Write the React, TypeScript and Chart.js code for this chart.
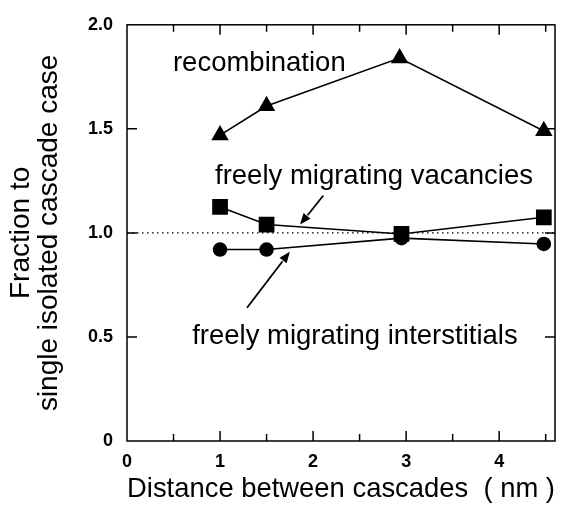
import React, { useEffect, useRef } from "react";
import { Chart, registerables } from "chart.js";

Chart.register(...registerables);

const DISTANCES_REC = [1.0, 1.5, 2.93, 4.48];
const RECOMBINATION = [1.47, 1.61, 1.84, 1.49];
const DISTANCES_VAC = [1.0, 1.5, 2.95, 4.48];
const VACANCIES = [1.125, 1.04, 0.995, 1.075];
const DISTANCES_INT = [1.0, 1.5, 2.95, 4.48];
const INTERSTITIALS = [0.92, 0.92, 0.975, 0.947];

const X_TICKS = [0, 1, 2, 3, 4];
const Y_TICKS = [0, 0.5, 1.0, 1.5, 2.0];
const Y_TICK_LABELS = ["0", "0.5", "1.0", "1.5", "2.0"];
const REFERENCE_LEVEL = 1.0;

const X_TITLE = "Distance between cascades  ( nm )";
const Y_TITLE = ["Fraction to", "single isolated cascade case"];

const LABELS = [
  { text: "recombination", x: 0.494, y: 1.779 },
  { text: "freely migrating vacancies", x: 0.946, y: 1.235 },
  { text: "freely migrating interstitials", x: 0.70, y: 0.465 },
];
const ARROWS = [
  { from: [2.11, 1.18], to: [1.86, 1.04] },
  { from: [1.29, 0.64], to: [1.75, 0.91] },
];

const FONT = "'Liberation Sans', Arial, Helvetica, sans-serif";

const toPoints = (xs: number[], ys: number[]) => xs.map((x, i) => ({ x, y: ys[i] }));

const framePlugin = {
  id: "frameAndTicks",
  beforeDatasetsDraw(chart: any) {
    const { ctx, chartArea, scales } = chart;
    const { left, right } = chartArea;
    const ys = scales.y.getPixelForValue(REFERENCE_LEVEL);
    ctx.save();
    ctx.strokeStyle = "#000";
    ctx.lineWidth = 1.2;
    ctx.setLineDash([1.5, 3.5]);
    ctx.beginPath();
    ctx.moveTo(left, ys);
    ctx.lineTo(right, ys);
    ctx.stroke();
    ctx.restore();
  },
  afterDatasetsDraw(chart: any) {
    const { ctx, chartArea, scales } = chart;
    const { left, right, top, bottom } = chartArea;
    ctx.save();
    ctx.strokeStyle = "#000";
    ctx.lineWidth = 1.5;
    ctx.strokeRect(left, top, right - left, bottom - top);
    for (let v = 0.5; v <= scales.x.max + 1e-9; v += 0.5) {
      const px = scales.x.getPixelForValue(v);
      const major = Math.abs(v - Math.round(v)) < 1e-6;
      const len = major ? 10 : 7;
      ctx.beginPath();
      ctx.moveTo(px, bottom);
      ctx.lineTo(px, bottom - len);
      ctx.moveTo(px, top);
      ctx.lineTo(px, top + len);
      ctx.stroke();
    }
    for (let v = 0.5; v < scales.y.max; v += 0.5) {
      const py = scales.y.getPixelForValue(v);
      ctx.beginPath();
      ctx.moveTo(left, py);
      ctx.lineTo(left + 10, py);
      ctx.moveTo(right, py);
      ctx.lineTo(right - 10, py);
      ctx.stroke();
    }
    ctx.fillStyle = "#000";
    ctx.font = `27.5px ${FONT}`;
    ctx.textAlign = "left";
    ctx.textBaseline = "alphabetic";
    LABELS.forEach((l) => {
      ctx.fillText(l.text, scales.x.getPixelForValue(l.x), scales.y.getPixelForValue(l.y));
    });
    ctx.lineWidth = 1.8;
    ARROWS.forEach((a) => {
      const x1 = scales.x.getPixelForValue(a.from[0]);
      const y1 = scales.y.getPixelForValue(a.from[1]);
      const x2 = scales.x.getPixelForValue(a.to[0]);
      const y2 = scales.y.getPixelForValue(a.to[1]);
      const ang = Math.atan2(y2 - y1, x2 - x1);
      const head = 12;
      const hw = 0.38;
      const bx = x2 - head * Math.cos(ang);
      const by = y2 - head * Math.sin(ang);
      ctx.beginPath();
      ctx.moveTo(x1, y1);
      ctx.lineTo(bx, by);
      ctx.stroke();
      ctx.beginPath();
      ctx.moveTo(x2, y2);
      ctx.lineTo(x2 - head * Math.cos(ang - hw), y2 - head * Math.sin(ang - hw));
      ctx.lineTo(x2 - head * Math.cos(ang + hw), y2 - head * Math.sin(ang + hw));
      ctx.closePath();
      ctx.fill();
    });
    ctx.restore();
  },
};

export default function App() {
  const ref = useRef<HTMLCanvasElement | null>(null);
  useEffect(() => {
    if (!ref.current) return;
    const common = {
      borderColor: "#000",
      backgroundColor: "#000",
      pointBackgroundColor: "#000",
      pointBorderColor: "#000",
      borderWidth: 1.6,
      showLine: true,
      tension: 0,
    };
    const chart = new Chart(ref.current, {
      type: "scatter",
      data: {
        datasets: [
          { ...common, label: "recombination", data: toPoints(DISTANCES_REC, RECOMBINATION), pointStyle: "triangle", pointRadius: 8.5 },
          { ...common, label: "freely migrating vacancies", data: toPoints(DISTANCES_VAC, VACANCIES), pointStyle: "rect", pointRadius: 10 },
          { ...common, label: "freely migrating interstitials", data: toPoints(DISTANCES_INT, INTERSTITIALS), pointStyle: "circle", pointRadius: 6.5 },
        ],
      },
      options: {
        responsive: false,
        animation: false,
        devicePixelRatio: 1,
        layout: { padding: { left: 0, right: 12, top: 15, bottom: 0 } },
        plugins: { legend: { display: false }, tooltip: { enabled: false } },
        scales: {
          x: {
            type: "linear",
            min: 0,
            max: 4.6,
            afterFit: (s: any) => { s.height = 76; },
            afterBuildTicks: (s: any) => { s.ticks = X_TICKS.map((v) => ({ value: v })); },
            grid: { display: false, drawTicks: false },
            border: { display: false },
            ticks: { color: "#000", padding: 10, font: { family: FONT, size: 18, weight: "bold" } },
            title: { display: true, text: X_TITLE, color: "#000", padding: { top: 0, bottom: 11 }, font: { family: FONT, size: 28, lineHeight: 1.2 } },
          },
          y: {
            type: "linear",
            min: 0,
            max: 2,
            afterFit: (s: any) => { s.width = 127; },
            afterBuildTicks: (s: any) => { s.ticks = Y_TICKS.map((v) => ({ value: v })); },
            grid: { display: false, drawTicks: false },
            border: { display: false },
            ticks: {
              color: "#000",
              padding: 14,
              font: { family: FONT, size: 18, weight: "bold" },
              callback: (v: any) => Y_TICK_LABELS[Y_TICKS.indexOf(Number(v))] ?? "",
            },
            title: { display: true, text: Y_TITLE, color: "#000", padding: { top: 7, bottom: 0 }, font: { family: FONT, size: 28, lineHeight: 1.0 } },
          },
        },
      },
      plugins: [framePlugin],
    } as any);
    return () => chart.destroy();
  }, []);
  return (
    <div style={{ position: "absolute", left: 0, top: 0, width: 567, height: 517, background: "#fff" }}>
      <canvas ref={ref} width={567} height={517} />
    </div>
  );
}
